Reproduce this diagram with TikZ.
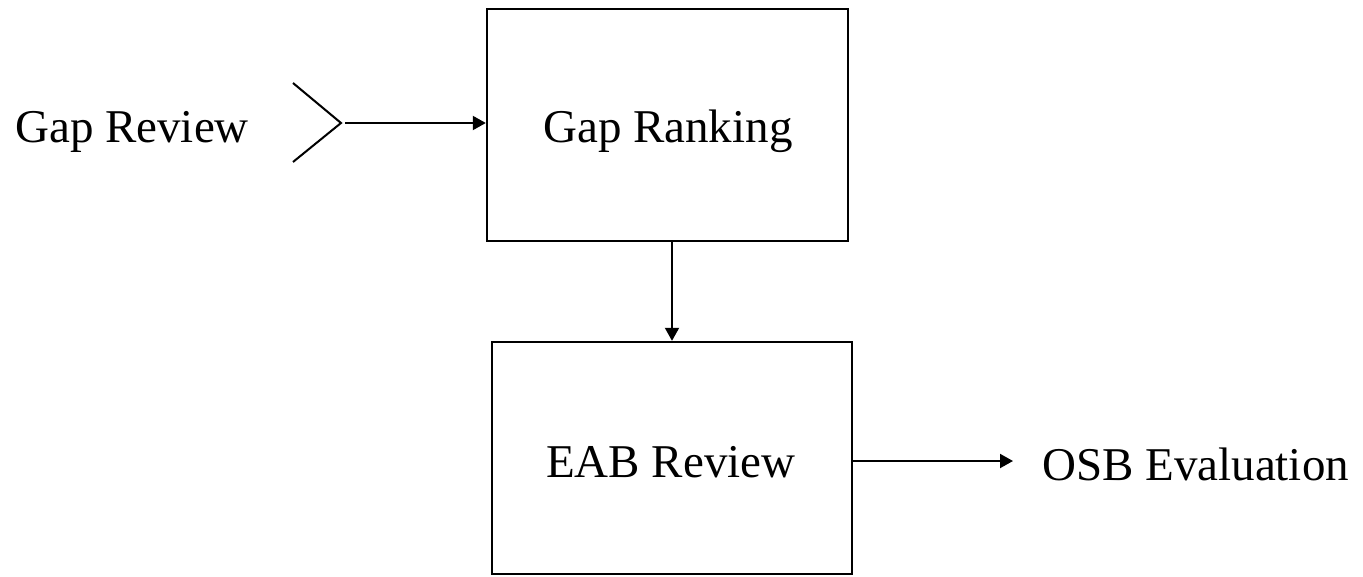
\documentclass[tikz,border=0pt]{standalone}
\usepackage{fontspec}
\setmainfont{Liberation Serif}
\usetikzlibrary{arrows.meta}
\begin{document}
\begin{tikzpicture}[x=1pt,y=-1pt,
  box/.style={draw,line width=2.4pt,minimum width=#1,inner sep=0pt},
  lbl/.style={font=\fontsize{47}{54}\selectfont,inner sep=0pt,anchor=base west},
  conn/.style={line width=2pt,-{Triangle[length=13pt,width=14pt]}},
  plain/.style={line width=2pt}]
\useasboundingbox (0,0) rectangle (1363,576);
\node[box=361pt,minimum height=232pt] (rank) at (667.5,125) {};
\node[lbl] at (543,142) {Gap Ranking};
\node[box=360pt,minimum height=232pt] (eab) at (672,458) {};
\node[lbl] at (546,477) {EAB Review};
\node[lbl] (gr) at (15,142) {Gap Review};
\node[lbl] (osb) at (1042,480) {OSB Evaluation};
\coordinate (tip) at (341,123);
\coordinate (armA) at (293,83);
\coordinate (armB) at (293,162);
\draw[plain] (armA) -- (tip) -- (armB);
\draw[conn] ([xshift=4pt]tip) -- (rank.west |- tip);
\draw[conn] (rank.south -| 672,0) -- (eab.north -| 672,0);
\coordinate (osbend) at (1013,461);
\draw[conn] (eab.east |- osbend) -- (osbend);
\end{tikzpicture}
\end{document}
